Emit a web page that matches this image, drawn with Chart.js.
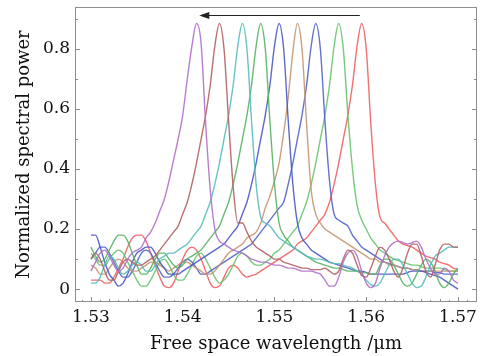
<!DOCTYPE html>
<html>
<head>
<meta charset="utf-8">
<title>Normalized spectral power</title>
<script src="https://cdn.jsdelivr.net/npm/chart.js@4/dist/chart.umd.min.js"></script>
<style>
  html, body { margin: 0; padding: 0; background: #fff; }
  #wrap { width: 494px; height: 356px; }
</style>
</head>
<body>
<div id="wrap"><canvas id="spectra" width="494" height="356"></canvas></div>
<script>
// wavelength grid (um)
const wavelengths = [
  1.5300, 1.5305, 1.5310, 1.5315, 1.5320, 1.5325, 1.5330, 1.5335, 1.5340, 1.5345,
  1.5350, 1.5355, 1.5360, 1.5365, 1.5370, 1.5375, 1.5380, 1.5385, 1.5390, 1.5395,
  1.5400, 1.5405, 1.5410, 1.5415, 1.5420, 1.5425, 1.5430, 1.5435, 1.5440, 1.5445,
  1.5450, 1.5455, 1.5460, 1.5465, 1.5470, 1.5475, 1.5480, 1.5485, 1.5490, 1.5495,
  1.5500, 1.5505, 1.5510, 1.5515, 1.5520, 1.5525, 1.5530, 1.5535, 1.5540, 1.5545,
  1.5550, 1.5555, 1.5560, 1.5565, 1.5570, 1.5575, 1.5580, 1.5585, 1.5590, 1.5595,
  1.5600, 1.5605, 1.5610, 1.5615, 1.5620, 1.5625, 1.5630, 1.5635, 1.5640, 1.5645,
  1.5650, 1.5655, 1.5660, 1.5665, 1.5670, 1.5675, 1.5680, 1.5685, 1.5690, 1.5695,
  1.5700
];

// normalized spectral power, one array per tuning step (peak moves left)
const purple = [
  .06, .09, .12, .13, .11, .08, .06, .07, .10, .12,
  .13, .14, .17, .19, .22, .26, .30, .36, .43, .50,
  .58, .70, .81, .885, .82, .55, .33, .20, .16, .15,
  .14, .13, .125, .12, .11, .10, .095, .09, .09, .085,
  .08, .08, .075, .07, .07, .065, .06, .06, .06, .055,
  .05, .03, .01, .01, .04, .09, .12, .13, .11, .06,
  .02, .005, .02, .07, .11, .14, .155, .16, .155, .15,
  .155, .16, .14, .10, .07, .05, .05, .07, .06, .03, .02
];
const maroon = [
  .10, .12, .10, .06, .03, .03, .06, .09, .10, .09,
  .08, .08, .09, .10, .11, .13, .15, .17, .19, .21,
  .25, .29, .35, .42, .50, .58, .68, .81, .885, .80,
  .56, .34, .22, .22, .19, .16, .14, .13, .12, .11,
  .10, .10, .09, .085, .08, .075, .07, .07, .065, .065,
  .065, .07, .06, .05, .06, .10, .13, .12, .08, .045,
  .04, .07, .11, .14, .13, .10, .06, .04, .07, .12,
  .15, .15, .11, .06, .04, .08, .13, .15, .15, .14, .14
];
const cyan = [
  .02, .02, .04, .08, .11, .10, .07, .05, .06, .08,
  .09, .08, .06, .06, .08, .10, .11, .12, .12, .13,
  .14, .15, .17, .19, .21, .25, .29, .35, .42, .50,
  .58, .68, .81, .885, .80, .56, .35, .24, .22, .21,
  .19, .17, .16, .15, .14, .13, .12, .11, .105, .10,
  .10, .095, .09, .085, .085, .08, .075, .07, .06, .05,
  .03, .015, .01, .02, .05, .08, .10, .10, .08, .05,
  .02, .005, .01, .04, .08, .11, .12, .13, .14, .14, .14
];
const green = [
  .14, .11, .09, .10, .13, .16, .18, .18, .16, .12,
  .08, .05, .05, .07, .10, .12, .12, .10, .08, .07,
  .08, .10, .11, .12, .13, .15, .17, .19, .21, .25,
  .29, .35, .42, .50, .58, .68, .81, .885, .80, .56,
  .35, .22, .18, .16, .14, .13, .12, .11, .10, .09,
  .085, .08, .075, .07, .07, .065, .06, .06, .06, .055,
  .055, .05, .05, .08, .10, .10, .08, .05, .02, .01,
  .02, .05, .08, .10, .09, .06, .02, .005, .02, .05, .07
];
const blue = [
  .18, .18, .14, .09, .05, .03, .01, .02, .05, .09,
  .12, .13, .14, .14, .12, .09, .07, .05, .05, .05,
  .06, .07, .08, .09, .10, .11, .12, .13, .14, .15,
  .17, .19, .21, .25, .29, .35, .42, .50, .58, .68,
  .81, .885, .80, .56, .35, .22, .17, .15, .13, .12,
  .11, .10, .09, .085, .08, .075, .07, .065, .06, .06,
  .055, .05, .05, .05, .05, .05, .05, .05, .05, .055,
  .06, .06, .06, .055, .05, .045, .04, .03, .02, .01, .00
];
const tan = [
  .08, .07, .05, .05, .07, .09, .10, .09, .07, .06,
  .06, .07, .08, .09, .09, .08, .07, .06, .07, .08,
  .09, .09, .08, .07, .06, .05, .05, .06, .08, .10,
  .12, .13, .14, .15, .17, .18, .19, .22, .27, .31,
  .36, .42, .52, .64, .79, .885, .80, .55, .33, .25,
  .22, .20, .19, .18, .17, .16, .15, .14, .13, .12,
  .11, .10, .10, .09, .09, .08, .08, .075, .07, .07,
  .065, .065, .06, .06, .06, .06, .06, .06, .06, .06, .06
];
const indigo = [
  .10, .12, .14, .14, .12, .09, .06, .04, .04, .06,
  .09, .12, .13, .12, .09, .06, .04, .04, .05, .07,
  .09, .10, .09, .07, .05, .05, .06, .07, .08, .09,
  .10, .11, .12, .13, .14, .15, .17, .19, .21, .23,
  .25, .27, .29, .35, .42, .50, .58, .68, .81, .885,
  .80, .56, .36, .25, .23, .22, .21, .18, .16, .14,
  .13, .12, .11, .10, .09, .085, .08, .075, .07, .07,
  .065, .065, .06, .06, .06, .055, .055, .05, .05, .05, .05
];
const lime = [
  .12, .10, .08, .08, .10, .12, .13, .12, .09, .06,
  .03, .01, .01, .03, .06, .09, .10, .08, .05, .03,
  .03, .05, .08, .11, .12, .10, .07, .04, .02, .03,
  .05, .08, .11, .12, .11, .09, .08, .08, .09, .10,
  .12, .13, .15, .17, .19, .21, .25, .29, .35, .42,
  .50, .58, .68, .81, .885, .80, .58, .40, .28, .23,
  .20, .17, .15, .13, .12, .11, .10, .095, .09, .085,
  .08, .08, .075, .07, .07, .07, .07, .065, .06, .06, .06
];
const red = [
  .03, .03, .03, .02, .02, .04, .07, .10, .14, .17,
  .18, .18, .16, .12, .08, .04, .01, .005, .02, .06,
  .10, .13, .14, .13, .10, .06, .02, .005, .01, .04,
  .07, .08, .07, .05, .04, .045, .05, .06, .07, .08,
  .09, .10, .11, .12, .13, .15, .16, .17, .19, .21,
  .23, .25, .29, .35, .42, .50, .58, .68, .81, .885,
  .80, .55, .35, .24, .22, .20, .18, .16, .15, .145,
  .14, .13, .12, .11, .105, .10, .09, .085, .08, .07, .065
];

const xTicks = [1.53, 1.54, 1.55, 1.56, 1.57];
const yTicks = [0, 0.2, 0.4, 0.6, 0.8];
// tuning arrow: from / to wavelength, at this power level
const arrowFrom = 1.5593, arrowTo = 1.5418, arrowLevel = 0.913;

const series = [purple, maroon, cyan, green, blue, tan, indigo, lime, red];
const colors = [
  'rgba(176,112,200,0.9)', 'rgba(178,96,100,0.9)', 'rgba(88,188,190,0.9)',
  'rgba(88,178,100,0.9)', 'rgba(74,88,196,0.9)', 'rgba(196,150,112,0.9)',
  'rgba(82,100,200,0.9)', 'rgba(104,196,110,0.9)', 'rgba(240,96,100,0.9)'
];

const serif = '"DejaVu Serif", "Liberation Serif", serif';

// frame, inward ticks and the arrow
const frameTicks = {
  id: 'frameTicks',
  afterDatasetsDraw(chart) {
    const { ctx, chartArea: a, scales: { x, y } } = chart;
    ctx.save();
    ctx.strokeStyle = '#8e8e8e';
    ctx.lineWidth = 1;
    ctx.strokeRect(a.left + 0.5, a.top + 0.5, a.right - a.left - 1, a.bottom - a.top - 1);

    ctx.beginPath();
    for (let k = 1529; k <= 1572; k++) {
      const v = k / 1000;
      if (v < x.min || v > x.max) continue;
      const px = Math.round(x.getPixelForValue(v)) + 0.5;
      const len = k % 10 === 0 ? 5 : (k % 2 === 0 ? 3 : 2);
      ctx.moveTo(px, a.bottom);
      ctx.lineTo(px, a.bottom - len);
    }
    for (let k = 0; k <= 9; k++) {
      const py = Math.round(y.getPixelForValue(k / 10)) + 0.5;
      const len = k % 2 === 0 ? 5 : 3;
      ctx.moveTo(a.left, py);
      ctx.lineTo(a.left + len, py);
      ctx.moveTo(a.right, py);
      ctx.lineTo(a.right - len, py);
    }
    ctx.stroke();

    const ax0 = x.getPixelForValue(arrowFrom);
    const ax1 = x.getPixelForValue(arrowTo);
    const ay = Math.round(y.getPixelForValue(arrowLevel)) + 0.5;
    ctx.strokeStyle = '#222';
    ctx.fillStyle = '#222';
    ctx.beginPath();
    ctx.moveTo(ax0, ay);
    ctx.lineTo(ax1 + 6, ay);
    ctx.stroke();
    ctx.beginPath();
    ctx.moveTo(ax1, ay);
    ctx.lineTo(ax1 + 10, ay - 3.5);
    ctx.lineTo(ax1 + 10, ay + 3.5);
    ctx.closePath();
    ctx.fill();
    ctx.restore();
  }
};

new Chart(document.getElementById('spectra'), {
  type: 'line',
  data: {
    datasets: series.map((vals, i) => ({
      data: vals.map((v, j) => ({ x: wavelengths[j], y: v })),
      borderColor: colors[i],
      borderWidth: 1.4,
      pointRadius: 0,
      cubicInterpolationMode: 'monotone',
      fill: false
    }))
  },
  options: {
    responsive: false,
    animation: false,
    layout: { padding: { top: 7, right: 17, left: 0, bottom: 0 } },
    plugins: { legend: { display: false }, tooltip: { enabled: false } },
    scales: {
      x: {
        type: 'linear',
        min: 1.52826,
        max: 1.57207,
        grid: { display: false, drawTicks: false },
        border: { display: false },
        afterBuildTicks: (s) => { s.ticks = xTicks.map(v => ({ value: v })); },
        afterFit: (s) => { s.height = 54; s.paddingLeft = 0; s.paddingRight = 0; },
        ticks: {
          color: '#111',
          padding: 5,
          maxRotation: 0,
          font: { family: serif, size: 17 },
          callback: (v) => v.toFixed(2)
        },
        title: {
          display: true,
          text: 'Free space wavelength /\u03bcm',
          color: '#111',
          padding: { top: 0, bottom: 1 },
          font: { family: serif, size: 18 }
        }
      },
      y: {
        type: 'linear',
        min: -0.043,
        max: 0.94,
        grid: { display: false, drawTicks: false },
        border: { display: false },
        afterBuildTicks: (s) => { s.ticks = yTicks.map(v => ({ value: v })); },
        afterFit: (s) => { s.width = 75; s.paddingTop = 0; s.paddingBottom = 0; },
        ticks: {
          color: '#111',
          padding: 5,
          font: { family: serif, size: 17 },
          callback: (v) => v === 0 ? '0' : v.toFixed(1)
        },
        title: {
          display: true,
          text: 'Normalized spectral power',
          color: '#111',
          padding: { top: 14, bottom: 0 },
          font: { family: serif, size: 18 }
        }
      }
    }
  },
  plugins: [frameTicks]
});
</script>
</body>
</html>
